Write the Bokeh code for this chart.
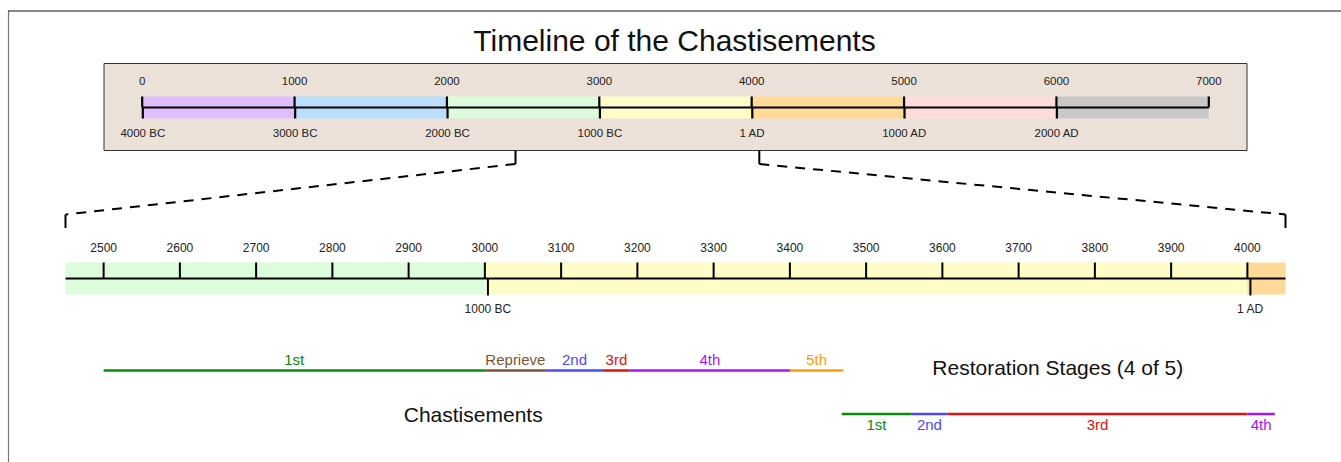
from bokeh.plotting import figure
from bokeh.models import Range1d
from bokeh.core.properties import value
from bokeh.embed import file_html
from bokeh.resources import INLINE

# ---------------- data ----------------
TITLE = "Timeline of the Chastisements"

ERA_STARTS = [0, 1000, 2000, 3000, 4000, 5000, 6000]
ERA_ENDS = [1000, 2000, 3000, 4000, 5000, 6000, 7000]
ERA_COLORS = ["#e0befc", "#bcdefc", "#dcfcdc", "#fffcc8", "#fed998", "#ffdcdc", "#c8c8c8"]

OVERVIEW_TICKS = [0, 1000, 2000, 3000, 4000, 5000, 6000, 7000]
OVERVIEW_TICK_LABELS = ["0", "1000", "2000", "3000", "4000", "5000", "6000", "7000"]
CAL_LABELS = ["4000 BC", "3000 BC", "2000 BC", "1000 BC", "1 AD", "1000 AD", "2000 AD"]
CAL_AM = [4, 1004, 2004, 3004, 4004, 5003, 6003]

ZOOM_START, ZOOM_END = 2450, 4050
ZOOM_TICKS = [2500, 2600, 2700, 2800, 2900, 3000, 3100, 3200,
              3300, 3400, 3500, 3600, 3700, 3800, 3900, 4000]
ZOOM_TICK_LABELS = [str(t) for t in ZOOM_TICKS]
ZOOM_CAL_LABELS = ["1000 BC", "1 AD"]
ZOOM_CAL_AM = [3004, 4004]

CHAST_NAMES = ["1st", "Reprieve", "2nd", "3rd", "4th", "5th"]
CHAST_START = [2500, 3000, 3080, 3155, 3190, 3400]
CHAST_END = [3000, 3080, 3155, 3190, 3400, 3470]
CHAST_COLORS = ["#0b8a0b", "#7a5535", "#4a4aff", "#dd1111", "#aa11ff", "#ff9c00"]
CHAST_TITLE = "Chastisements"

REST_NAMES = ["1st", "2nd", "3rd", "4th"]
REST_START = [3468, 3559, 3607, 4000]
REST_END = [3559, 3607, 4000, 4036]
REST_COLORS = ["#0b8a0b", "#4a4aff", "#dd1111", "#aa11ff"]
REST_TITLE = "Restoration Stages (4 of 5)"

# ---------------- layout ----------------
W, H = 1341, 462
PX0, PX1 = 0, W
PY0, PY1 = 0, H
OV_PX = (141.7, 1208.3)   # page x of overview years 0 and 7000
ZM_PX = (65.0, 1285.0)    # page x of zoom start / end
FONT = value("Liberation Sans")
BASE_SHIFT = 0.4          # renderer places alphabetic baseline ~0.4em low


def bl(baseline, size):
    return baseline - BASE_SHIFT * size


def range_for(y0, y1, px0, px1):
    k = (px1 - px0) / (y1 - y0)
    return Range1d(y0 - (px0 - PX0) / k, y1 + (PX1 - px1) / k)


def ov_px(year):
    return OV_PX[0] + year * (OV_PX[1] - OV_PX[0]) / (OVERVIEW_TICKS[-1] - OVERVIEW_TICKS[0])


def zm_px(year):
    return ZM_PX[0] + (year - ZOOM_START) * (ZM_PX[1] - ZM_PX[0]) / (ZOOM_END - ZOOM_START)


p = figure(width=W, height=H, output_backend="svg", toolbar_location=None,
           x_range=Range1d(PX0, PX1), y_range=Range1d(PY1, PY0),
           min_border=0, x_axis_location=None, y_axis_location=None)
p.grid.visible = False
p.outline_line_color = None
p.background_fill_color = "white"
p.border_fill_color = "white"
p.extra_x_ranges = {
    "ov": range_for(OVERVIEW_TICKS[0], OVERVIEW_TICKS[-1], *OV_PX),
    "zm": range_for(ZOOM_START, ZOOM_END, *ZM_PX),
}


def label(x, y, text, size, color="#222222", rng="default"):
    kw = dict(x_range_name=rng) if rng != "default" else {}
    p.text(x=x, y=bl(y, size), text=text, text_font=FONT,
           text_font_size=value(f"{size}px"), text_align="center",
           text_baseline="alphabetic", text_color=color, **kw)


# frame (image border, cropped)
p.segment(x0=[8], y0=[10.5], x1=[8], y1=[PY1], line_color="#777777", line_width=1.2)
p.segment(x0=[7.5], y0=[10.5], x1=[PX1], y1=[10.5], line_color="#111111", line_width=1)

# title
label([674], 52, [TITLE], 30, "#111111")

# overview box
p.quad(left=[103.5], right=[1246.5], top=[63], bottom=[150], fill_color="#ebe1d9",
       line_color="#333333", line_width=1)

# overview bands
p.quad(left=ERA_STARTS, right=ERA_ENDS, top=96, bottom=118, fill_color=ERA_COLORS,
       line_color=None, x_range_name="ov")
p.segment(x0=[OVERVIEW_TICKS[0]], y0=[107], x1=[OVERVIEW_TICKS[-1]], y1=[107],
          line_color="black", line_width=2.2, x_range_name="ov")
p.segment(x0=OVERVIEW_TICKS, y0=96, x1=OVERVIEW_TICKS, y1=107, line_color="black",
          line_width=2.2, x_range_name="ov")
p.segment(x0=CAL_AM, y0=107, x1=CAL_AM, y1=118, line_color="black",
          line_width=2.2, x_range_name="ov")
label(OVERVIEW_TICKS, 85, OVERVIEW_TICK_LABELS, 11.5, rng="ov")
label(CAL_AM, 137, CAL_LABELS, 11.5, rng="ov")

# connectors
lx_top, rx_top = ov_px(ZOOM_START), ov_px(ZOOM_END)
lx_bot, rx_bot = zm_px(ZOOM_START), zm_px(ZOOM_END)
p.segment(x0=[lx_top, rx_top, lx_bot, rx_bot], y0=[150, 150, 214, 214],
          x1=[lx_top, rx_top, lx_bot, rx_bot], y1=[163.5, 163.5, 227.5, 227.5],
          line_color="black", line_width=2)
p.segment(x0=[lx_top, rx_top], y0=[163.5, 163.5], x1=[lx_bot, rx_bot], y1=[214, 214],
          line_color="black", line_width=2, line_dash="10 8")

# zoom band
z_left, z_right, z_col = [], [], []
for s, e, c in zip(ERA_STARTS, ERA_ENDS, ERA_COLORS):
    if e > ZOOM_START and s < ZOOM_END:
        z_left.append(max(s, ZOOM_START))
        z_right.append(min(e, ZOOM_END))
        z_col.append(c)
p.quad(left=z_left, right=z_right, top=262, bottom=294, fill_color=z_col,
       line_color=None, x_range_name="zm")
p.segment(x0=[ZOOM_START], y0=[278], x1=[ZOOM_END], y1=[278], line_color="black",
          line_width=2, x_range_name="zm")
p.segment(x0=ZOOM_TICKS, y0=262, x1=ZOOM_TICKS, y1=278, line_color="black",
          line_width=2, x_range_name="zm")
p.segment(x0=ZOOM_CAL_AM, y0=278, x1=ZOOM_CAL_AM, y1=295, line_color="black",
          line_width=2, x_range_name="zm")
label(ZOOM_TICKS, 251.7, ZOOM_TICK_LABELS, 12, rng="zm")
label(ZOOM_CAL_AM, 313.3, ZOOM_CAL_LABELS, 12, rng="zm")

# chastisements
p.segment(x0=CHAST_START, y0=370, x1=CHAST_END, y1=370, line_color=CHAST_COLORS,
          line_width=2.5, x_range_name="zm")
label([(s + e) / 2 for s, e in zip(CHAST_START, CHAST_END)], 364.5, CHAST_NAMES, 15,
      CHAST_COLORS, rng="zm")
label([472.7], 422.7, [CHAST_TITLE], 21, "#111111")

# restoration stages
p.segment(x0=REST_START, y0=413.5, x1=REST_END, y1=413.5, line_color=REST_COLORS,
          line_width=2.5, x_range_name="zm")
label([(s + e) / 2 for s, e in zip(REST_START, REST_END)], 430, REST_NAMES, 15,
      REST_COLORS, rng="zm")
label([1057.3], 375.7, [REST_TITLE], 21, "#111111")

open("out.html", "w").write(file_html(p, INLINE))
